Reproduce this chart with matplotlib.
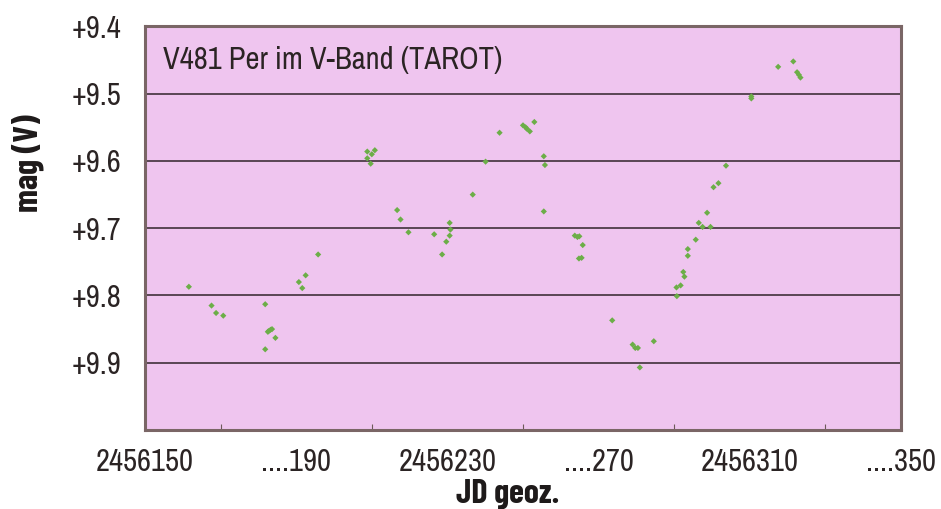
import numpy as np
import matplotlib
matplotlib.use("Agg")
import matplotlib.pyplot as plt

# --- Daten (JD - 2456000, Helligkeit in mag) ---
jd = [161.6, 167.6, 168.8, 170.7, 181.8, 182.5, 182.7, 183.2, 183.6, 184.5, 181.8,
      190.7, 191.6, 192.5, 195.8,
      208.8, 210.0, 210.8, 208.8, 209.7,
      216.7, 217.6, 219.7, 226.5,
      230.6, 230.8, 230.6, 229.7, 228.6,
      236.7, 240.1, 243.8, 250.0, 250.7, 251.0, 251.8, 253.0,
      255.5, 255.8, 255.5,
      263.7, 264.4, 264.9, 265.8, 264.8, 265.5,
      273.6, 279.0, 279.7, 280.4, 280.9, 284.6,
      290.6, 290.7, 291.7, 292.7, 292.4, 293.6, 293.6, 295.7,
      296.5, 297.5, 299.6, 298.7, 300.4, 301.7, 303.7,
      310.4, 310.4, 317.5, 321.5, 322.5, 323.0, 323.4]
mag = [9.787, 9.815, 9.826, 9.830, 9.813, 9.854, 9.853, 9.851, 9.850, 9.863, 9.880,
       9.780, 9.789, 9.770, 9.739,
       9.586, 9.590, 9.584, 9.596, 9.604,
       9.673, 9.687, 9.706, 9.709,
       9.692, 9.702, 9.711, 9.720, 9.739,
       9.650, 9.601, 9.558, 9.547, 9.550, 9.552, 9.556, 9.542,
       9.593, 9.606, 9.675,
       9.711, 9.713, 9.712, 9.725, 9.745, 9.744,
       9.837, 9.873, 9.878, 9.878, 9.907, 9.868,
       9.788, 9.801, 9.785, 9.772, 9.765, 9.741, 9.731, 9.717,
       9.692, 9.698, 9.698, 9.677, 9.639, 9.633, 9.607,
       9.504, 9.507, 9.460, 9.452, 9.468, 9.472, 9.476]

x_ticks = [150, 190, 230, 270, 310, 350]
x_tick_labels = ["2456150", "....190", "2456230", "....270", "2456310", "....350"]
y_ticks = [9.4, 9.5, 9.6, 9.7, 9.8, 9.9]
y_tick_labels = ["+9.4", "+9.5", "+9.6", "+9.7", "+9.8", "+9.9"]

title = "V481 Per im V-Band (TAROT)"

# schmale Schrift wie im Original (Helvetica Condensed)
plt.rcParams['font.family'] = ['Archivo Narrow', 'Liberation Sans']
bold_family = ['Barlow Condensed', 'Liberation Sans']

fig = plt.figure(figsize=(9.41, 5.09), dpi=100)
ax = fig.add_axes([0.1541, 0.1552, 0.8034, 0.7928])
ax.set_facecolor("#efc5ef")

ax.scatter(jd, mag, marker="D", s=10, color="#6cae48", edgecolors="none", zorder=3)

ax.set_xlim(150, 350)
ax.set_ylim(10.0, 9.4)

for yv in y_ticks[1:]:
    ax.axhline(yv, color="#4e3c48", lw=1.3, zorder=2)

ax.set_xticks(x_ticks)
ax.set_xticklabels(x_tick_labels)
ax.set_xticks(np.arange(150, 351, 20), minor=True)
ax.tick_params(axis="x", which="major", length=0, pad=13, labelsize=22, colors="#2b2424")
ax.tick_params(axis="x", which="minor", direction="in", length=4, width=0.8, color="#6e5a5a")
ax.set_yticks(y_ticks)
ax.set_yticklabels(y_tick_labels)
ax.tick_params(axis="y", length=0, pad=17, labelsize=22, colors="#2b2424")

for sp in ax.spines.values():
    sp.set_color("#7a6666")
    sp.set_linewidth(2.2)

ax.text(0.024, 0.916, title, transform=ax.transAxes, fontsize=22, color="#2b2424",
        va="center", ha="left")

ax.set_xlabel("JD geoz.", fontsize=24.5, fontweight="bold", family=bold_family, color="#1e1a1a")
ax.xaxis.set_label_coords(0.48, -0.158)
ax.xaxis.label.set_va("center")
ax.set_ylabel("mag (V)", fontsize=24.5, fontweight="bold", family=bold_family, color="#1e1a1a")
ax.yaxis.set_label_coords(-0.155, 0.66)
ax.yaxis.label.set_va("center")

fig.savefig("out.png", dpi=100)
